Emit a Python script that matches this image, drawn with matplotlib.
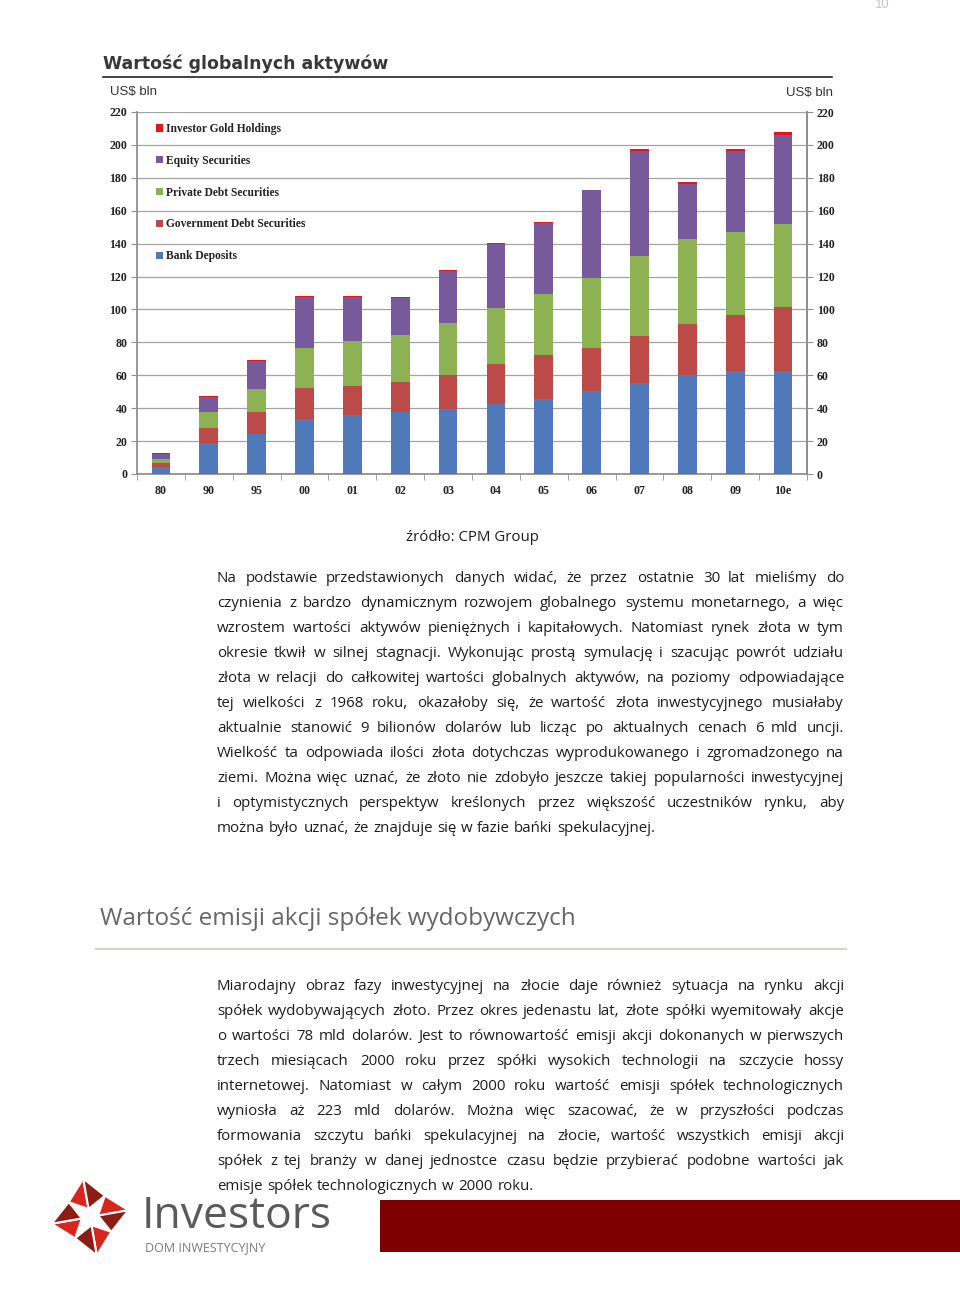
import numpy as np
import matplotlib
matplotlib.use('Agg')
import matplotlib.pyplot as plt
from matplotlib.patches import Polygon, Rectangle

# chart data (US$ bln)
years = ['80', '90', '95', '00', '01', '02', '03', '04', '05', '06', '07', '08', '09', '10e']
bank_deposits = [4.5, 18.6, 24.6, 33.7, 35.6, 37.8, 39.6, 42.4, 45.5, 50.7, 55.6, 60.4, 62.6, 62.6]
gov_debt = [2.0, 9.1, 12.8, 18.8, 17.9, 18.2, 20.8, 24.7, 27.0, 26.1, 28.2, 30.9, 34.0, 38.6]
private_debt = [2.4, 10.1, 14.5, 24.1, 27.3, 28.2, 31.3, 33.9, 37.0, 42.4, 48.7, 51.3, 50.7, 50.7]
equity = [3.0, 8.9, 17.0, 31.1, 26.9, 22.9, 31.9, 38.5, 43.2, 53.3, 63.9, 33.8, 48.9, 54.2]
gold = [0.6, 0.6, 0.4, 0.4, 0.4, 0.4, 0.5, 0.6, 0.6, 0.4, 1.2, 1.0, 1.2, 2.0]

series_names = ['Bank Deposits', 'Government Debt Securities', 'Private Debt Securities',
                'Equity Securities', 'Investor Gold Holdings']
series_colors = ['#4f79b8', '#bb4a48', '#8db253', '#775a9c', '#e8141c']

title = 'Wartość globalnych aktywów'
source = 'źródło: CPM Group'
heading2 = 'Wartość emisji akcji spółek wydobywczych'

para1 = [
    'Na podstawie przedstawionych danych widać, że przez ostatnie 30 lat mieliśmy do',
    'czynienia z bardzo dynamicznym rozwojem globalnego systemu monetarnego, a więc',
    'wzrostem wartości aktywów pieniężnych i kapitałowych. Natomiast rynek złota w tym',
    'okresie tkwił w silnej stagnacji. Wykonując prostą symulację i szacując powrót udziału',
    'złota w relacji do całkowitej wartości globalnych aktywów, na poziomy odpowiadające',
    'tej wielkości z 1968 roku, okazałoby się, że wartość złota inwestycyjnego musiałaby',
    'aktualnie stanowić 9 bilionów dolarów lub licząc po aktualnych cenach 6 mld uncji.',
    'Wielkość ta odpowiada ilości złota dotychczas wyprodukowanego i zgromadzonego na',
    'ziemi. Można więc uznać, że złoto nie zdobyło jeszcze takiej popularności inwestycyjnej',
    'i optymistycznych perspektyw kreślonych przez większość uczestników rynku, aby',
    'można było uznać, że znajduje się w fazie bańki spekulacyjnej.',
]
para2 = [
    'Miarodajny obraz fazy inwestycyjnej na złocie daje również sytuacja na rynku akcji',
    'spółek wydobywających złoto. Przez okres jedenastu lat, złote spółki wyemitowały akcje',
    'o wartości 78 mld dolarów. Jest to równowartość emisji akcji dokonanych w pierwszych',
    'trzech miesiącach 2000 roku przez spółki wysokich technologii na szczycie hossy',
    'internetowej. Natomiast w całym 2000 roku wartość emisji spółek technologicznych',
    'wyniosła aż 223 mld dolarów. Można więc szacować, że w przyszłości podczas',
    'formowania szczytu bańki spekulacyjnej na złocie, wartość wszystkich emisji akcji',
    'spółek z tej branży w danej jednostce czasu będzie przybierać podobne wartości jak',
    'emisje spółek technologicznych w 2000 roku.',
]

W, H = 960, 1296
BODY_FONT = 'Open Sans'
BODY_SIZE = 10.8
BODY_COLOR = '#1c1c1c'


def justify(ax, lines, x0, x1, y0, step, renderer, size):
    # y0 is the baseline of the first line
    for i, line in enumerate(lines):
        y = y0 + i * step
        words = line.split()
        texts = [ax.text(0, y, w, fontsize=size, family=BODY_FONT, color=BODY_COLOR,
                         va='baseline', ha='left') for w in words]
        widths = [t.get_window_extent(renderer).width for t in texts]
        if i == len(lines) - 1:
            gap = size * 100 / 72 * 0.3
        else:
            gap = max((x1 - x0 - sum(widths)) / (len(words) - 1), 2)
        x = x0
        for t, w in zip(texts, widths):
            t.set_x(round(x))
            x += w + gap


def draw_logo(ax, cx, cy, R=39, r=26, rot=-10):
    a = np.deg2rad(rot)
    def pt(ang, rad):
        return (cx + rad * np.sin(ang), cy - rad * np.cos(ang))
    for k in range(4):
        ang = a + k * np.pi / 2
        tip = pt(ang, R)
        left = pt(ang - np.pi / 4, r)
        right = pt(ang + np.pi / 4, r)
        ax.add_patch(Polygon([(cx, cy), left, tip], closed=True, fc='#d8261c',
                             ec='white', lw=1.5))
        ax.add_patch(Polygon([(cx, cy), tip, right], closed=True, fc='#8c1c14',
                             ec='white', lw=1.5))
    # white centre, points towards the gaps between arms
    inner = []
    for k in range(4):
        ang = a + np.pi / 4 + k * np.pi / 2
        inner.append(pt(ang, r + 2))
        inner.append(pt(ang + np.pi / 4, 9))
    ax.add_patch(Polygon(inner, closed=True, fc='white', ec='white', lw=0.5))


fig = plt.figure(figsize=(W / 100, H / 100), dpi=100)
fig.patch.set_facecolor('white')
page = fig.add_axes([0, 0, 1, 1])
page.set_xlim(0, W)
page.set_ylim(H, 0)
page.axis('off')
renderer = fig.canvas.get_renderer()

# header
page.text(889, 4, '10', fontsize=9, color='#c4c4c4', family='Lato', ha='right', va='center')
page.text(103, 64, title, fontsize=12.5, fontweight='bold', family='DejaVu Sans',
          color='#383838', ha='left', va='center')
page.plot([103, 832], [77, 77], color='#111111', lw=1.1)
page.text(110, 92, 'US$ bln', fontsize=9.5, family='Liberation Sans', color='#333333',
          ha='left', va='center')
page.text(833, 93, 'US$ bln', fontsize=9.5, family='Liberation Sans', color='#333333',
          ha='right', va='center')

# chart
ax = fig.add_axes([137 / W, 1 - 474 / H, 670 / W, 362 / H])
x = np.arange(len(years))
bottom = np.zeros(len(years))
handles = []
for name, vals, col in zip(series_names,
                           [bank_deposits, gov_debt, private_debt, equity, gold],
                           series_colors):
    b = ax.bar(x, vals, width=0.39, bottom=bottom, color=col, label=name, zorder=3, lw=0)
    handles.append(b)
    bottom += np.array(vals)

ax.set_xlim(-0.5, len(years) - 0.5)
ax.set_ylim(0, 220)
ax.set_yticks(np.arange(0, 221, 20))
ax.yaxis.grid(True, color='#a3a3a3', lw=0.9)
ax.set_axisbelow(True)
ax.set_xticks(x)
ax.set_xticklabels(years)
ax.set_xticks(np.arange(-0.5, len(years)), minor=True)
ax.tick_params(axis='x', which='major', length=0, pad=8)
ax.tick_params(axis='x', which='minor', length=4, color='#909090', direction='out')
ax.tick_params(axis='y', length=4, color='#909090', pad=3)
for lab in ax.get_xticklabels() + ax.get_yticklabels():
    lab.set_family('Liberation Serif')
    lab.set_fontweight('bold')
    lab.set_fontsize(8.6)
    lab.set_color('#222222')
ax.spines['top'].set_visible(False)
for side in ['left', 'right', 'bottom']:
    ax.spines[side].set_color('#909090')
    ax.spines[side].set_linewidth(1.3)

ax2 = ax.twinx()
ax2.set_ylim(0, 220)
ax2.set_yticks(np.arange(0, 221, 20))
ax2.tick_params(axis='y', length=4, color='#909090', pad=3)
for lab in ax2.get_yticklabels():
    lab.set_family('Liberation Serif')
    lab.set_fontweight('bold')
    lab.set_fontsize(8.6)
    lab.set_color('#222222')
for side in ['top', 'left', 'bottom']:
    ax2.spines[side].set_visible(False)
ax2.spines['right'].set_color('#909090')
ax2.spines['right'].set_linewidth(1.3)

leg = ax.legend(handles[::-1], series_names[::-1], loc='upper left',
                bbox_to_anchor=(19 / 670, (474 - 123) / 362), frameon=False,
                handlelength=0.6, handleheight=0.6, handletextpad=0.3,
                labelspacing=1.72, borderpad=0, borderaxespad=0,
                prop={'family': 'Liberation Serif', 'weight': 'bold', 'size': 8.3})
for t in leg.get_texts():
    t.set_color('#222222')

# text body
page.text(472, 541, source, fontsize=BODY_SIZE, family=BODY_FONT, color=BODY_COLOR,
          ha='center', va='baseline')
justify(page, para1, 217, 844, 582, 25, renderer, BODY_SIZE)

page.text(100, 919, heading2, fontsize=17.5, family=BODY_FONT, color='#666666',
          ha='left', va='center')
page.plot([96, 846], [949, 949], color='#d4d4cc', lw=1.6)
justify(page, para2, 217, 844, 990, 25, renderer, BODY_SIZE)

# footer
page.add_patch(Rectangle((380, 1200), 580, 52, fc='#7e0000', ec='none'))
draw_logo(page, 90, 1217)
page.text(142, 1217, 'Investors', fontsize=32, family='Open Sans', color='#5a5a5a',
          ha='left', va='center')
page.text(145, 1248, 'DOM INWESTYCYJNY', fontsize=9, family='Open Sans', color='#7a7a7a',
          ha='left', va='center')

fig.savefig('out.png', dpi=100, facecolor='white')
